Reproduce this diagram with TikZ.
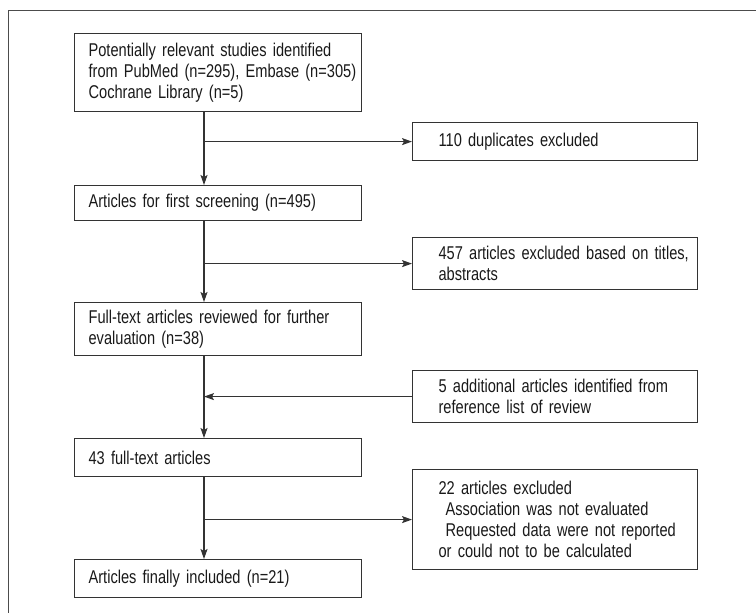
\documentclass[tikz,border=0pt]{standalone}
\usepackage{fontspec}
\setmainfont{Liberation Sans}[FakeStretch=0.79, WordSpace=0.8]
\usetikzlibrary{arrows.meta}

\begin{document}
\begin{tikzpicture}[x=1bp,y=-1bp,
		every node/.style={font=\fontsize{18.5bp}{21bp}\selectfont, text=black!90},
		leftbox/.style={draw=black!80, line width=1.2bp, anchor=north west, align=left,
			inner sep=0pt, text width=287bp, minimum height=#1,
			execute at begin node={\leftskip=14bp\relax}},
		rightbox/.style={draw=black!80, line width=1.2bp, anchor=north west, align=left,
			inner sep=0pt, text width=285bp, minimum height=#1,
			execute at begin node={\leftskip=26bp\relax}},
		flow/.style={draw=black!80, line width=1.2bp, -{Stealth[length=10bp,width=7bp,inset=2bp]}}
	]
	\useasboundingbox (0,0) rectangle (756,613);

	% page frame
	\draw [black!70, line width=1bp] (8,613) -- (8,11) -- (756,11);

	% main column
	\node [leftbox=78bp] (ident) at (74,33)
		{Potentially relevant studies identified\\from PubMed (n=295), Embase (n=305)\\Cochrane Library (n=5)};
	\node [leftbox=35bp] (screen) at (74,185) {Articles for first screening (n=495)};
	\node [leftbox=53bp] (fulltext) at (74,302)
		{Full-text articles reviewed for further\\evaluation (n=38)};
	\node [leftbox=38bp] (pooled) at (74,438) {43 full-text articles};
	\node [leftbox=38bp] (included) at (74,559) {Articles finally included (n=21)};

	% side boxes
	\node [rightbox=38bp] (dup) at (412,122) {110 duplicates excluded};
	\node [rightbox=52bp] (excl) at (412,237)
		{457 articles excluded based on titles,\\abstracts};
	\node [rightbox=52bp] (extra) at (412,370)
		{5 additional articles identified from\\reference list of review};
	\node [rightbox=100bp] (drop) at (412,469)
		{22 articles excluded\\\hspace*{7bp}Association was not evaluated\\\hspace*{7bp}Requested data were not reported\\or could not to be calculated};

	\coordinate (trunk) at (204,0);

	\draw [flow] (ident.south -| trunk) -- (screen.north -| trunk);
	\draw [flow] (screen.south -| trunk) -- (fulltext.north -| trunk);
	\draw [flow] (fulltext.south -| trunk) -- (pooled.north -| trunk);
	\draw [flow] (pooled.south -| trunk) -- (included.north -| trunk);

	\draw [flow] (trunk |- dup.west) -- (dup.west);
	\draw [flow] (trunk |- excl.west) -- (excl.west);
	\draw [flow] (extra.west) -- (trunk |- extra.west);
	\draw [flow] (trunk |- drop.west) -- (drop.west);

\end{tikzpicture}
\end{document}
